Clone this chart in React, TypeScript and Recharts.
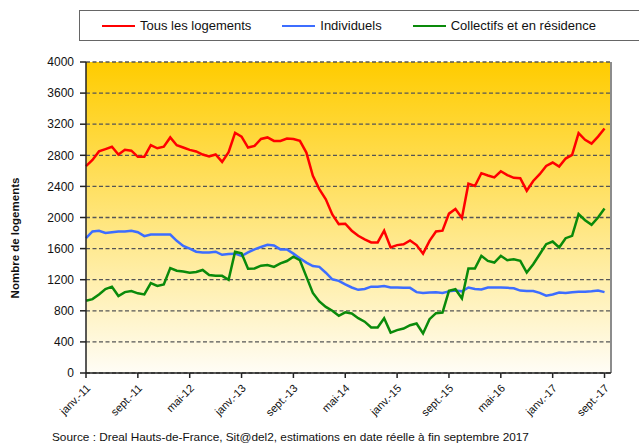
import { CartesianGrid, Line, LineChart, ReferenceLine, XAxis, YAxis } from 'recharts';

// mensuel, janv. 2011 -> sept. 2017 (81 mois)
const tickLabels = ['janv.-11', 'sept.-11', 'mai-12', 'janv.-13', 'sept.-13', 'mai-14', 'janv.-15', 'sept.-15', 'mai-16', 'janv.-17', 'sept.-17'];
const yTicks = [0, 400, 800, 1200, 1600, 2000, 2400, 2800, 3200, 3600, 4000];

const tous = [
  2660, 2740, 2850, 2880, 2910, 2810, 2870, 2860, 2780, 2780, 2930, 2890, 2910, 3030, 2930, 2900,
  2870, 2850, 2810, 2785, 2810, 2715, 2840, 3090, 3040, 2900, 2920, 3010, 3030, 2985, 2985, 3015,
  3010, 2985, 2835, 2535, 2365, 2235, 2040, 1915, 1920, 1830, 1765, 1720, 1680, 1680, 1830, 1615,
  1645, 1655, 1705, 1645, 1535, 1700, 1820, 1830, 2050, 2110, 1995, 2435, 2405, 2570, 2540, 2515,
  2595, 2545, 2510, 2505, 2345, 2470, 2557, 2664, 2707, 2656, 2758, 2805, 3084, 2999, 2951, 3040,
  3144,
];
const individuels = [
  1734, 1820, 1830, 1800, 1810, 1820, 1820, 1830, 1810, 1760, 1780, 1780, 1780, 1780, 1700, 1635,
  1600, 1560, 1550, 1550, 1560, 1520, 1530, 1535, 1505, 1550, 1590, 1620, 1650, 1640, 1590, 1590,
  1535, 1475, 1420, 1375, 1365, 1290, 1205, 1185, 1140, 1100, 1070, 1080, 1110, 1110, 1120, 1100,
  1100, 1095, 1095, 1040, 1030, 1035, 1040, 1030, 1050, 1060, 1050, 1100, 1080, 1075, 1100, 1100,
  1100, 1095, 1090, 1060, 1056, 1055, 1030, 995, 1010, 1035, 1030, 1040, 1045, 1045, 1050, 1060,
  1040,
];
const collectifs = [
  930, 950, 1010, 1080, 1110, 990, 1040, 1055, 1025, 1010, 1155, 1120, 1140, 1350, 1315, 1305,
  1290, 1300, 1325, 1260, 1250, 1250, 1200, 1560, 1540, 1340, 1345, 1380, 1390, 1365, 1410, 1440,
  1495, 1450, 1240, 1030, 920, 850, 800, 735, 780, 765, 705, 660, 585, 585, 705, 520,
  551, 572, 615, 636, 508, 692, 770, 778, 1057, 1078, 958, 1344, 1344, 1507, 1442, 1421,
  1507, 1451, 1464, 1442, 1292, 1399, 1528, 1657, 1691, 1614, 1734, 1764, 2043, 1965, 1905, 2000,
  2115,
];

const data = tous.map((v, i) => ({ idx: i, tous: v, individuels: individuels[i], collectifs: collectifs[i] }));

const series = [
  { key: 'tous', name: 'Tous les logements', color: '#ff0000' },
  { key: 'individuels', name: 'Individuels', color: '#3d6dff' },
  { key: 'collectifs', name: 'Collectifs et en résidence', color: '#0a8a0a' },
];

const FONT = '"Liberation Sans", Arial, sans-serif';

function XTick({ x, y, payload }: any) {
  const label = tickLabels[Math.round(payload.value / 8)];
  const tx = x + 5;
  const ty = y + 9;
  return (
    <text x={tx} y={ty} transform={`rotate(-45 ${tx} ${ty})`} textAnchor="end" fontSize={11} fontFamily={FONT} fill="#111">
      {label}
    </text>
  );
}

const yLabel = () => (
  <text x={19} y={238} transform="rotate(-90 19 238)" textAnchor="middle" fontSize={11.5} fontWeight="bold" fontFamily={FONT} fill="#111">
    Nombre de logements
  </text>
);

export default function App() {
  return (
    <div style={{ position: 'absolute', left: 0, top: 0, width: 639, height: 443, overflow: 'hidden', background: '#fff', fontFamily: FONT }}>
      <div
        style={{
          position: 'absolute', left: 79, top: 10, width: 580, height: 31, boxSizing: 'border-box',
          border: '1.5px solid #666', display: 'flex', alignItems: 'center', gap: 31, paddingLeft: 22,
          fontSize: 13, color: '#111',
        }}
      >
        {series.map((s) => (
          <div key={s.key} style={{ display: 'flex', alignItems: 'center', gap: 5 }}>
            <span style={{ display: 'inline-block', width: 33, height: 2, background: s.color }} />
            <span>{s.name}</span>
          </div>
        ))}
      </div>

      <LineChart width={639} height={443} data={data} margin={{ top: 62, right: 28, bottom: 0, left: 0 }}>
        <defs>
          <linearGradient id="fond" x1="0" y1="0" x2="0" y2="1">
            <stop offset="0%" stopColor="#ffcc00" />
            <stop offset="50%" stopColor="#ffe57a" />
            <stop offset="100%" stopColor="#fffdf6" />
          </linearGradient>
        </defs>
        <CartesianGrid vertical={false} fill="url(#fond)" stroke="#555" strokeDasharray="4 2.5" strokeWidth={1.3} />
        <XAxis
          dataKey="idx" type="number" domain={[0, 81]} ticks={[0, 8, 16, 24, 32, 40, 48, 56, 64, 72, 80]}
          tick={<XTick />} tickSize={5} interval={0} stroke="#222" strokeWidth={1.5} height={70}
        />
        <YAxis
          type="number" domain={[0, 4000]} ticks={yTicks} width={86} tickSize={6} tickMargin={6}
          stroke="#222" strokeWidth={1.5} tick={{ fontSize: 12, fill: '#111', fontFamily: FONT }} label={yLabel}
        />
        <ReferenceLine x={81} stroke="#8c8c8c" strokeWidth={2} />
        {series.map((s) => (
          <Line
            key={s.key} type="linear" dataKey={s.key} name={s.name} stroke={s.color} strokeWidth={2.5}
            dot={false} isAnimationActive={false}
          />
        ))}
      </LineChart>

      <div style={{ position: 'absolute', left: 52, top: 430, fontSize: 11.8, color: '#111', whiteSpace: 'nowrap' }}>
        Source : Dreal Hauts-de-France, Sit@del2, estimations en date réelle à fin septembre 2017
      </div>
    </div>
  );
}
